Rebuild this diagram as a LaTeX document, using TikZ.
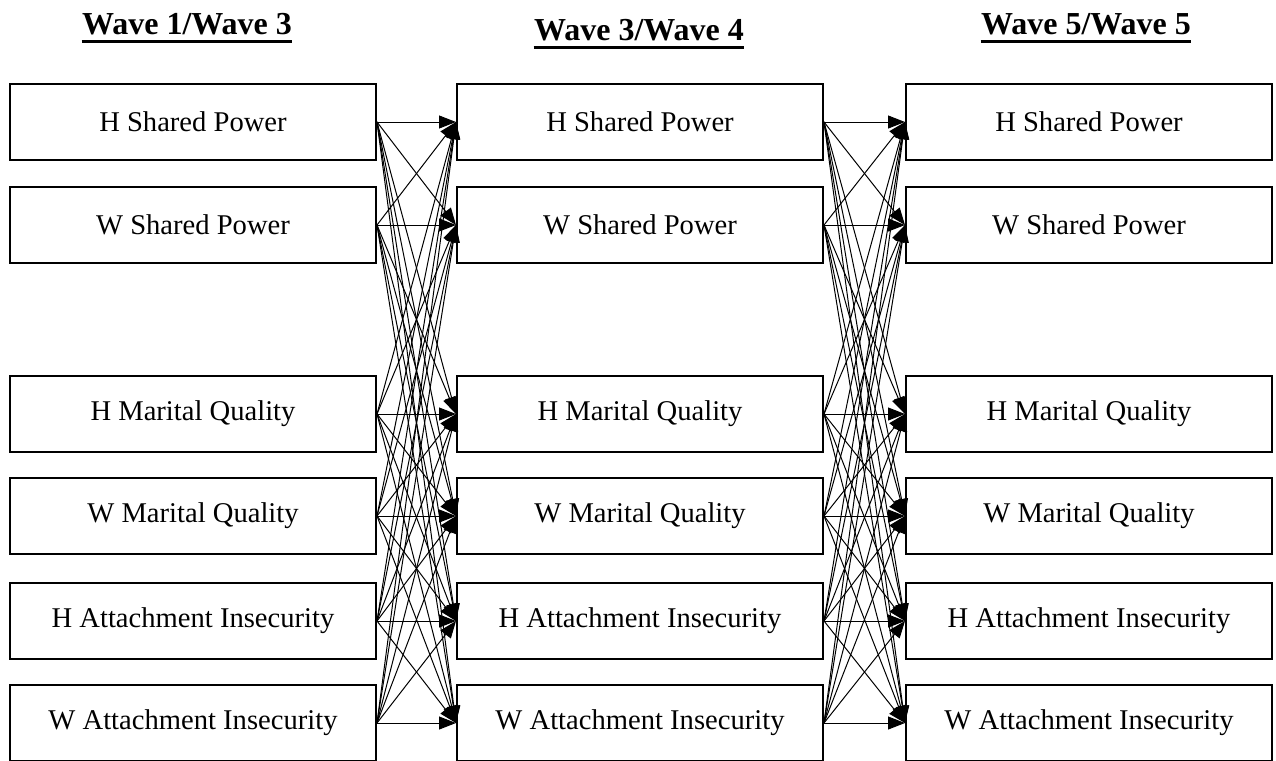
\documentclass[tikz,border=0pt]{standalone}
\usepackage{fontspec}
\setmainfont{Liberation Serif}
\usetikzlibrary{arrows.meta}

\begin{document}
\begin{tikzpicture}[
    x=0.5pt, y=-0.5pt,
    every node/.style={align=center},
    var/.style={draw, line width=1pt, minimum width=183pt, minimum height=38pt,
                inner sep=0pt, font=\fontsize{14.3}{16}\selectfont},
    hdr/.style={font=\fontsize{16}{19}\selectfont\bfseries, anchor=base, inner sep=0pt},
    uline/.style={line width=1.5pt},
    lag/.style={line width=0.5pt, -{Triangle[length=8.5pt, width=6.5pt]}}
  ]

  \fill[white] (0,0) rectangle (1276,761);
  \useasboundingbox (0,0) rectangle (1276,761);

  % ---- titres des vagues -------------------------------------------------
  \node[hdr] (t1) at (187,34) {Wave 1/Wave 3};
  \node[hdr] (t2) at (639,40) {Wave 3/Wave 4};
  \node[hdr] (t3) at (1086,34) {Wave 5/Wave 5};
  \draw[uline] ([yshift=-3.5pt]t1.base west) -- ([yshift=-3.5pt]t1.base east);
  \draw[uline] ([yshift=-3.5pt]t2.base west) -- ([yshift=-3.5pt]t2.base east);
  \draw[uline] ([yshift=-3.5pt]t3.base west) -- ([yshift=-3.5pt]t3.base east);

  % ---- colonne 1 ----------------------------------------------------------
  \node[var] (a1) at (193,122) {H Shared Power};
  \node[var] (a2) at (193,225) {W Shared Power};
  \node[var] (a3) at (193,414) {H Marital Quality};
  \node[var] (a4) at (193,516) {W Marital Quality};
  \node[var] (a5) at (193,621) {H Attachment Insecurity};
  \node[var] (a6) at (193,723) {W Attachment Insecurity};

  % ---- colonne 2 ----------------------------------------------------------
  \node[var] (b1) at (640,122) {H Shared Power};
  \node[var] (b2) at (640,225) {W Shared Power};
  \node[var] (b3) at (640,414) {H Marital Quality};
  \node[var] (b4) at (640,516) {W Marital Quality};
  \node[var] (b5) at (640,621) {H Attachment Insecurity};
  \node[var] (b6) at (640,723) {W Attachment Insecurity};

  % ---- colonne 3 ----------------------------------------------------------
  \node[var] (c1) at (1089,122) {H Shared Power};
  \node[var] (c2) at (1089,225) {W Shared Power};
  \node[var] (c3) at (1089,414) {H Marital Quality};
  \node[var] (c4) at (1089,516) {W Marital Quality};
  \node[var] (c5) at (1089,621) {H Attachment Insecurity};
  \node[var] (c6) at (1089,723) {W Attachment Insecurity};

  % ---- effets croises : chaque variable vers toutes les suivantes ---------
  \path[lag] (a1.east) edge (b1.west) edge (b2.west) edge (b3.west) edge (b4.west) edge (b5.west) edge (b6.west);
  \path[lag] (a2.east) edge (b1.west) edge (b2.west) edge (b3.west) edge (b4.west) edge (b5.west) edge (b6.west);
  \path[lag] (a3.east) edge (b1.west) edge (b2.west) edge (b3.west) edge (b4.west) edge (b5.west) edge (b6.west);
  \path[lag] (a4.east) edge (b1.west) edge (b2.west) edge (b3.west) edge (b4.west) edge (b5.west) edge (b6.west);
  \path[lag] (a5.east) edge (b1.west) edge (b2.west) edge (b3.west) edge (b4.west) edge (b5.west) edge (b6.west);
  \path[lag] (a6.east) edge (b1.west) edge (b2.west) edge (b3.west) edge (b4.west) edge (b5.west) edge (b6.west);

  \path[lag] (b1.east) edge (c1.west) edge (c2.west) edge (c3.west) edge (c4.west) edge (c5.west) edge (c6.west);
  \path[lag] (b2.east) edge (c1.west) edge (c2.west) edge (c3.west) edge (c4.west) edge (c5.west) edge (c6.west);
  \path[lag] (b3.east) edge (c1.west) edge (c2.west) edge (c3.west) edge (c4.west) edge (c5.west) edge (c6.west);
  \path[lag] (b4.east) edge (c1.west) edge (c2.west) edge (c3.west) edge (c4.west) edge (c5.west) edge (c6.west);
  \path[lag] (b5.east) edge (c1.west) edge (c2.west) edge (c3.west) edge (c4.west) edge (c5.west) edge (c6.west);
  \path[lag] (b6.east) edge (c1.west) edge (c2.west) edge (c3.west) edge (c4.west) edge (c5.west) edge (c6.west);

\end{tikzpicture}
\end{document}
